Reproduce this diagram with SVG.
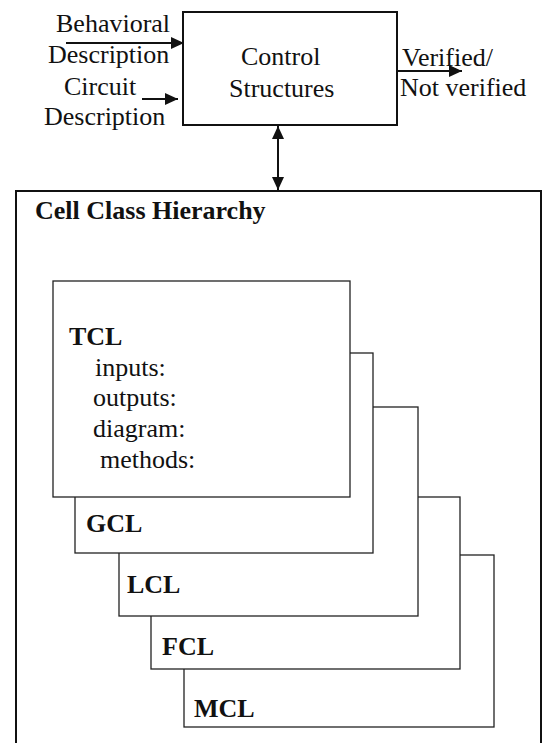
<svg xmlns="http://www.w3.org/2000/svg" width="543" height="743" viewBox="0 0 543 743">
<style>
text{font-family:"Liberation Serif","Times New Roman",serif;font-size:26px;fill:#111}
.b{font-weight:bold}
.box{fill:#fff;stroke:#111;stroke-width:2}
.cls{fill:#fff;stroke:#222;stroke-width:1.3}
.ln{stroke:#111;stroke-width:2;fill:none}
</style>
<defs>
<marker id="ah" markerUnits="userSpaceOnUse" markerWidth="14" markerHeight="12" refX="13" refY="6" orient="auto-start-reverse">
<path d="M0,0 L13,6 L0,12 Z" fill="#111"/>
</marker>
</defs>
<rect width="543" height="743" fill="#fff"/>
<g id="inputs-labels">
<text x="56" y="32">Behavioral</text>
<text x="48" y="63">Description</text>
<text x="64" y="95">Circuit</text>
<text x="44" y="125">Description</text>
</g>
<g id="control">
<rect class="box" x="183" y="12" width="214" height="113"/>
<text x="241" y="65">Control</text>
<text x="229" y="97">Structures</text>
</g>
<g id="output-label">
<text x="402" y="66">Verified/</text>
<text x="400" y="96">Not verified</text>
</g>
<g id="hierarchy">
<rect class="box" x="16" y="191" width="525" height="570"/>
<text class="b" x="35" y="219">Cell Class Hierarchy</text>
</g>
<g id="MCL">
<rect class="cls" x="184" y="555" width="310" height="172"/>
<text class="b" x="194" y="717">MCL</text>
</g>
<g id="FCL">
<rect class="cls" x="151" y="497" width="309" height="172"/>
<text class="b" x="162" y="655">FCL</text>
</g>
<g id="LCL">
<rect class="cls" x="119" y="407" width="299" height="209"/>
<text class="b" x="127" y="593">LCL</text>
</g>
<g id="GCL">
<rect class="cls" x="75" y="353" width="298" height="200"/>
<text class="b" x="86" y="532">GCL</text>
</g>
<g id="TCL">
<rect class="cls" x="53" y="281" width="297" height="216"/>
<text class="b" x="69" y="345">TCL</text>
<text x="95" y="376">inputs:</text>
<text x="93" y="406">outputs:</text>
<text x="93" y="437">diagram:</text>
<text x="100" y="468">methods:</text>
</g>
<g id="connectors">
<line class="ln" x1="66" y1="43" x2="184" y2="43" marker-end="url(#ah)"/>
<line class="ln" x1="142" y1="99" x2="178" y2="99" marker-end="url(#ah)"/>
<line class="ln" x1="397" y1="71" x2="462" y2="71" marker-end="url(#ah)"/>
<line class="ln" x1="278" y1="126" x2="278" y2="190" marker-start="url(#ah)" marker-end="url(#ah)"/>
</g>
</svg>
